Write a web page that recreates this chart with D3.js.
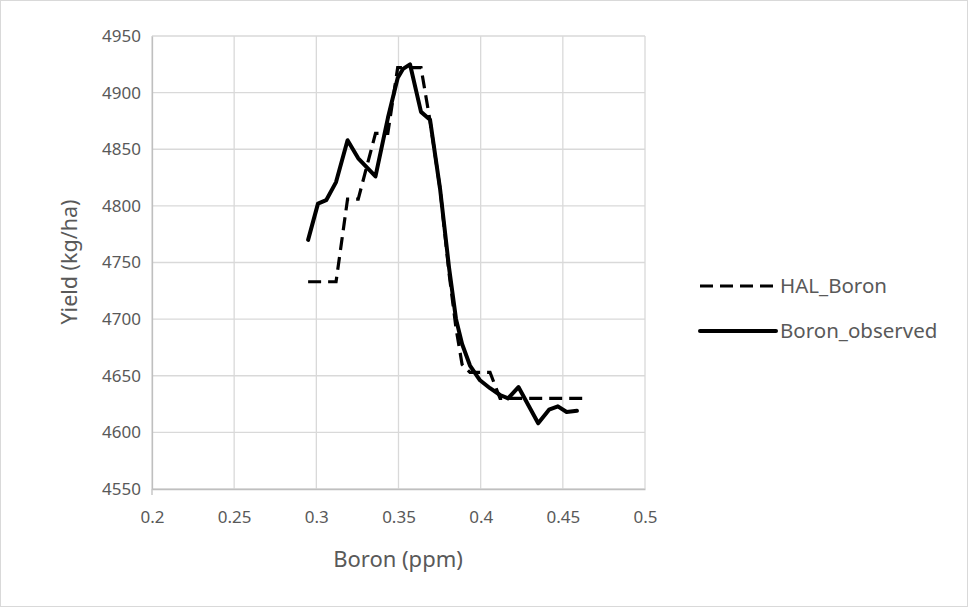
<!DOCTYPE html>
<html>
<head>
<meta charset="utf-8">
<script src="https://cdn.jsdelivr.net/npm/d3@7"></script>
<style>
  body { margin: 0; background: #fff; }
  text { font-family: "Noto Sans", "Open Sans", sans-serif; fill: #595959; }
</style>
</head>
<body>
<svg id="chart" width="968" height="607"></svg>
<script>
// values
var halX = [0.295, 0.301, 0.306, 0.312, 0.319, 0.3255, 0.336, 0.3435, 0.3495, 0.3528, 0.357, 0.3637, 0.3692,
            0.3753, 0.3808, 0.385, 0.3887, 0.3935, 0.3996, 0.4057, 0.4118, 0.4167, 0.423, 0.435, 0.442, 0.4475,
            0.4523, 0.4586, 0.465];
var halY = [4733, 4733, 4733, 4733, 4806, 4806, 4864, 4864, 4922, 4922, 4922, 4922, 4875,
            4815, 4740, 4692, 4660, 4653, 4653, 4653, 4630, 4630, 4630, 4630, 4630, 4630,
            4630, 4630, 4630];
var obsX = [0.295, 0.301, 0.306, 0.312, 0.319, 0.3255, 0.336, 0.3436, 0.3495, 0.3528, 0.357, 0.3637, 0.3692,
            0.3753, 0.3808, 0.385, 0.3887, 0.3935, 0.3996, 0.4057, 0.4118, 0.4167, 0.423, 0.435, 0.4416, 0.447,
            0.4523, 0.4586];
var obsY = [4770, 4802, 4805, 4821, 4858, 4842, 4826, 4878, 4913, 4921, 4925, 4883, 4876,
            4815, 4745, 4700, 4678, 4659, 4646, 4639, 4633, 4630, 4640, 4608, 4620, 4623,
            4618, 4619];
var xTicks = [0.2, 0.25, 0.3, 0.35, 0.4, 0.45, 0.5];
var yTicks = [4550, 4600, 4650, 4700, 4750, 4800, 4850, 4900, 4950];
var seriesNames = ["HAL_Boron", "Boron_observed"];

var svg = d3.select("#chart");

svg.append("rect").attr("x", 0.5).attr("y", 0.5).attr("width", 967).attr("height", 606)
  .attr("fill", "#fff").attr("stroke", "#d9d9d9");

var x = d3.scaleLinear().domain([0.2, 0.5]).range([152, 645]);
var y = d3.scaleLinear().domain([4550, 4950]).range([489, 36]);

// grid
svg.append("g").selectAll("line").data(yTicks).enter().append("line")
  .attr("x1", x(0.2)).attr("x2", x(0.5))
  .attr("y1", function(d) { return y(d); }).attr("y2", function(d) { return y(d); })
  .attr("stroke", "#d9d9d9").attr("stroke-width", 1.3);
svg.append("g").selectAll("line").data(xTicks).enter().append("line")
  .attr("x1", function(d) { return x(d); }).attr("x2", function(d) { return x(d); })
  .attr("y1", y(4950)).attr("y2", y(4550))
  .attr("stroke", "#d9d9d9").attr("stroke-width", 1.3);

// axes
var xAxis = svg.append("g").attr("transform", "translate(0," + y(4550) + ")")
  .call(d3.axisBottom(x).tickValues(xTicks).tickSize(0).tickPadding(22)
        .tickFormat(function(d) { return String(d); }));
var yAxis = svg.append("g").attr("transform", "translate(" + x(0.2) + ",0)")
  .call(d3.axisLeft(y).tickValues(yTicks).tickSize(0).tickPadding(11).tickFormat(d3.format("d")));
[xAxis, yAxis].forEach(function(a) {
  a.select(".domain").attr("stroke", "#bfbfbf").attr("stroke-width", 1.3);
  a.selectAll("text").style("font-size", "17px").attr("fill", "#595959")
    .style("font-family", "'Noto Sans', sans-serif");
});
svg.append("line").attr("x1", x(0.2)).attr("x2", x(0.2)).attr("y1", y(4550)).attr("y2", y(4550) + 6)
  .attr("stroke", "#bfbfbf").attr("stroke-width", 1.3);

svg.append("text").attr("x", 398).attr("y", 567).attr("text-anchor", "middle")
  .style("font-size", "22px").text("Boron (ppm)");
svg.append("text").attr("transform", "translate(77,262) rotate(-90)").attr("text-anchor", "middle")
  .style("font-size", "21.5px").text("Yield (kg/ha)");

// lines
var line = d3.line().x(function(d) { return x(d[0]); }).y(function(d) { return y(d[1]); });
var hal = d3.zip(halX, halY), obs = d3.zip(obsX, obsY);

svg.append("path").datum(hal).attr("d", line).attr("fill", "none")
  .attr("stroke", "#000").attr("stroke-width", 3.2).attr("stroke-dasharray", "13,7");
svg.append("path").datum(obs).attr("d", line).attr("fill", "none")
  .attr("stroke", "#000").attr("stroke-width", 4).attr("stroke-linejoin", "round").attr("stroke-linecap", "round");

// legend
var legend = svg.append("g");
legend.append("line").attr("x1", 700).attr("x2", 776).attr("y1", 286).attr("y2", 286)
  .attr("stroke", "#000").attr("stroke-width", 3.2).attr("stroke-dasharray", "13,7");
legend.append("line").attr("x1", 700).attr("x2", 776).attr("y1", 331).attr("y2", 331)
  .attr("stroke", "#000").attr("stroke-width", 4).attr("stroke-linecap", "round");
legend.selectAll("text").data(seriesNames).enter().append("text")
  .attr("x", 780).attr("y", function(d, i) { return 293 + i * 45; })
  .style("font-size", "20.5px").text(function(d) { return d; });
</script>
</body>
</html>
